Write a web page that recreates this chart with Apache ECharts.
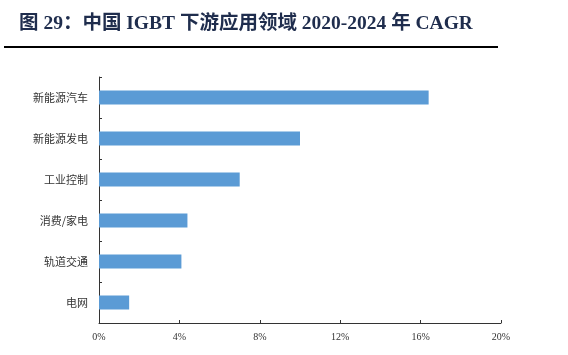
<!DOCTYPE html>
<html><head><meta charset="utf-8">
<script src="https://cdn.jsdelivr.net/npm/echarts@6/dist/echarts.min.js"></script>
<style>html,body{margin:0;padding:0;background:#fff}#c{width:568px;height:355px}</style>
</head><body><div id="c"></div>
<script>
const categories = ['新能源汽车', '新能源发电', '工业控制', '消费/家电', '轨道交通', '电网'];
const cagr = [16.4, 10.0, 7.0, 4.4, 4.1, 1.5];
const titleText = '图 29：中国 IGBT 下游应用领域 2020-2024 年 CAGR';

const chart = echarts.init(document.getElementById('c'));
chart.setOption({
  animation: false,
  title: {
    text: titleText, left: 14, top: 9,
    textStyle: { fontFamily: '"Liberation Serif","Noto Sans CJK SC"', fontWeight: 'bold', fontSize: 19.5, color: '#1f2d4d' }
  },
  graphic: [{ type: 'rect', shape: { x: 4, y: 46, width: 494, height: 2 }, style: { fill: '#000' } }],
  grid: { left: 99, right: 67, top: 77, bottom: 32 },
  xAxis: {
    type: 'value', min: 0, max: 20, interval: 4,
    splitLine: { show: false },
    axisLine: { show: true, lineStyle: { color: '#333', width: 1 } },
    axisTick: { show: true, inside: true, length: 3, lineStyle: { color: '#333' } },
    axisLabel: { formatter: v => v + '%', fontFamily: '"Liberation Serif"', fontSize: 10, color: '#333', margin: 9 }
  },
  yAxis: {
    type: 'category', data: categories, inverse: true,
    axisLine: { show: true, lineStyle: { color: '#333', width: 1 } },
    axisTick: { show: true, inside: true, length: 3, lineStyle: { color: '#333' } },
    axisLabel: { fontFamily: '"Noto Sans CJK SC"', fontSize: 11, color: '#333', margin: 11 }
  },
  series: [{
    type: 'bar', data: cagr, barWidth: 14,
    itemStyle: { color: '#5b9bd5' }
  }]
});
</script></body></html>
